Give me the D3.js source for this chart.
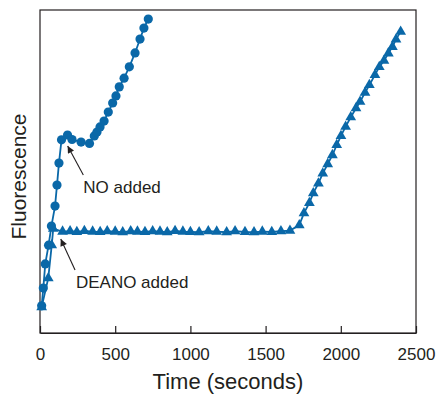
<!DOCTYPE html>
<html>
<head>
<meta charset="utf-8">
<script src="https://cdn.jsdelivr.net/npm/d3@7"></script>
<style>
  body { margin: 0; background: #fff; }
  text { font-family: "Liberation Sans", Arial, Helvetica, sans-serif; fill: #231f20; }
</style>
</head>
<body>
<svg id="chart" width="437" height="395"></svg>
<script>
// NO added (circles): time in s, fluorescence (arbitrary units)
const noTimes = [11, 22, 35, 57, 76, 100, 113, 126, 143, 183, 213, 273, 329, 361, 379, 399, 426, 454, 483, 505, 527, 559, 594, 632, 665, 691, 720];
const noValues = [8.4, 13.9, 21.4, 27.2, 33.1, 39.3, 45.8, 52.6, 59.8, 61.3, 59.9, 59.1, 58.7, 61.0, 62.2, 63.8, 65.6, 68.4, 71.2, 73.4, 76.2, 78.9, 82.4, 86.7, 91.0, 94.4, 97.2];

// DEANO added (triangles)
const deanoTimes = [11, 55, 78, 88, 150, 200, 245, 295, 350, 400, 447, 500, 550, 603, 648, 698, 749, 798, 846, 898, 950, 1000, 1058, 1119, 1175, 1241, 1297, 1363, 1423, 1478, 1541, 1602, 1662,
  1724, 1755, 1791, 1817, 1851, 1880, 1913, 1944, 1973, 2001, 2032, 2066, 2101, 2128, 2161, 2190, 2227, 2256, 2287, 2316, 2343, 2367, 2398];
const deanoValues = [8.0, 17.0, 27.2, 32.3, 31.4, 31.5, 31.3, 31.6, 31.4, 31.3, 31.5, 31.4, 31.2, 31.5, 31.4, 31.3, 31.5, 31.4, 31.2, 31.6, 31.4, 31.3, 31.2, 31.5, 31.4, 31.2, 31.5, 31.3, 31.2, 31.4, 31.3, 31.5, 31.7,
  33.4, 37.1, 40.3, 43.3, 46.3, 49.4, 52.3, 55.1, 58.2, 61.0, 63.9, 66.8, 69.6, 71.6, 74.4, 76.8, 79.9, 82.4, 84.3, 86.6, 88.6, 90.9, 93.3];

const xTicks = [0, 500, 1000, 1500, 2000, 2500];

// annotations: label, arrow tip, arrow tail / text position (data units)
const notes = [
  { label: 'NO added', tip: [184, 57.9], tail: [288, 48.9], text: [288, 43.3] },
  { label: 'DEANO added', tip: [138, 29.1], tail: [233, 19.5], text: [239, 13.9] }
];

const blue = '#0a68a8';
const margin = { top: 10, right: 21, bottom: 62, left: 40 };
const width = 437, height = 395;

const svg = d3.select('#chart');

const x = d3.scaleLinear().domain([0, 2500]).range([margin.left, width - margin.right]);
const y = d3.scaleLinear().domain([0, 100]).range([height - margin.bottom, margin.top]);

const noData = noTimes.map((t, i) => ({ t, v: noValues[i] }));
const deanoData = deanoTimes.map((t, i) => ({ t, v: deanoValues[i] }));

// frame
svg.append('rect')
  .attr('x', x(0))
  .attr('y', y(100))
  .attr('width', x(2500) - x(0))
  .attr('height', y(0) - y(100))
  .attr('fill', 'none')
  .attr('stroke', '#231f20')
  .attr('stroke-width', 1.2);

// x axis, ticks pointing inward
const xAxis = d3.axisBottom(x)
  .tickValues(xTicks)
  .tickSizeInner(-7)
  .tickSizeOuter(0)
  .tickPadding(15)
  .tickFormat(d3.format('d'));

const gx = svg.append('g')
  .attr('transform', `translate(0, ${y(0)})`)
  .call(xAxis);
gx.select('.domain').attr('stroke', '#231f20').attr('stroke-width', 1.2);
gx.selectAll('.tick line').attr('stroke', '#231f20').attr('stroke-width', 1.2);
gx.selectAll('.tick text')
  .style('font-family', '"Liberation Sans", Arial, sans-serif')
  .style('font-size', '17px')
  .attr('fill', '#231f20');

// axis titles
svg.append('text')
  .attr('x', (x(0) + x(2500)) / 2)
  .attr('y', 389)
  .attr('text-anchor', 'middle')
  .style('font-size', '22px')
  .text('Time (seconds)');

svg.append('text')
  .attr('transform', `translate(26, ${(y(0) + y(100)) / 2 + 5}) rotate(-90)`)
  .attr('text-anchor', 'middle')
  .style('font-size', '21px')
  .text('Fluorescence');

const line = d3.line().x(d => x(d.t)).y(d => y(d.v));

// DEANO series
svg.append('path')
  .datum(deanoData)
  .attr('d', line)
  .attr('fill', 'none')
  .attr('stroke', blue)
  .attr('stroke-width', 1.8);

svg.append('g')
  .selectAll('path')
  .data(deanoData)
  .join('path')
    .attr('transform', d => `translate(${x(d.t)}, ${y(d.v)})`)
    .attr('d', d3.symbol(d3.symbolTriangle, 50))
    .attr('fill', blue);

// NO series
svg.append('path')
  .datum(noData)
  .attr('d', line)
  .attr('fill', 'none')
  .attr('stroke', blue)
  .attr('stroke-width', 1.8);

svg.append('g')
  .selectAll('circle')
  .data(noData)
  .join('circle')
    .attr('cx', d => x(d.t))
    .attr('cy', d => y(d.v))
    .attr('r', 4.6)
    .attr('fill', blue);

// annotations
svg.append('defs').append('marker')
  .attr('id', 'arrow')
  .attr('viewBox', '0 0 10 10')
  .attr('refX', 10)
  .attr('refY', 5)
  .attr('markerUnits', 'userSpaceOnUse')
  .attr('markerWidth', 8)
  .attr('markerHeight', 7)
  .attr('orient', 'auto')
  .append('path')
    .attr('d', 'M0,0 L10,5 L0,10 z')
    .attr('fill', '#231f20');

const gNotes = svg.append('g');
gNotes.selectAll('line')
  .data(notes)
  .join('line')
    .attr('x1', d => x(d.tail[0]))
    .attr('y1', d => y(d.tail[1]))
    .attr('x2', d => x(d.tip[0]))
    .attr('y2', d => y(d.tip[1]))
    .attr('stroke', '#231f20')
    .attr('stroke-width', 1.1)
    .attr('marker-end', 'url(#arrow)');

gNotes.selectAll('text')
  .data(notes)
  .join('text')
    .attr('x', d => x(d.text[0]))
    .attr('y', d => y(d.text[1]))
    .style('font-size', '17px')
    .text(d => d.label);
</script>
</body>
</html>
